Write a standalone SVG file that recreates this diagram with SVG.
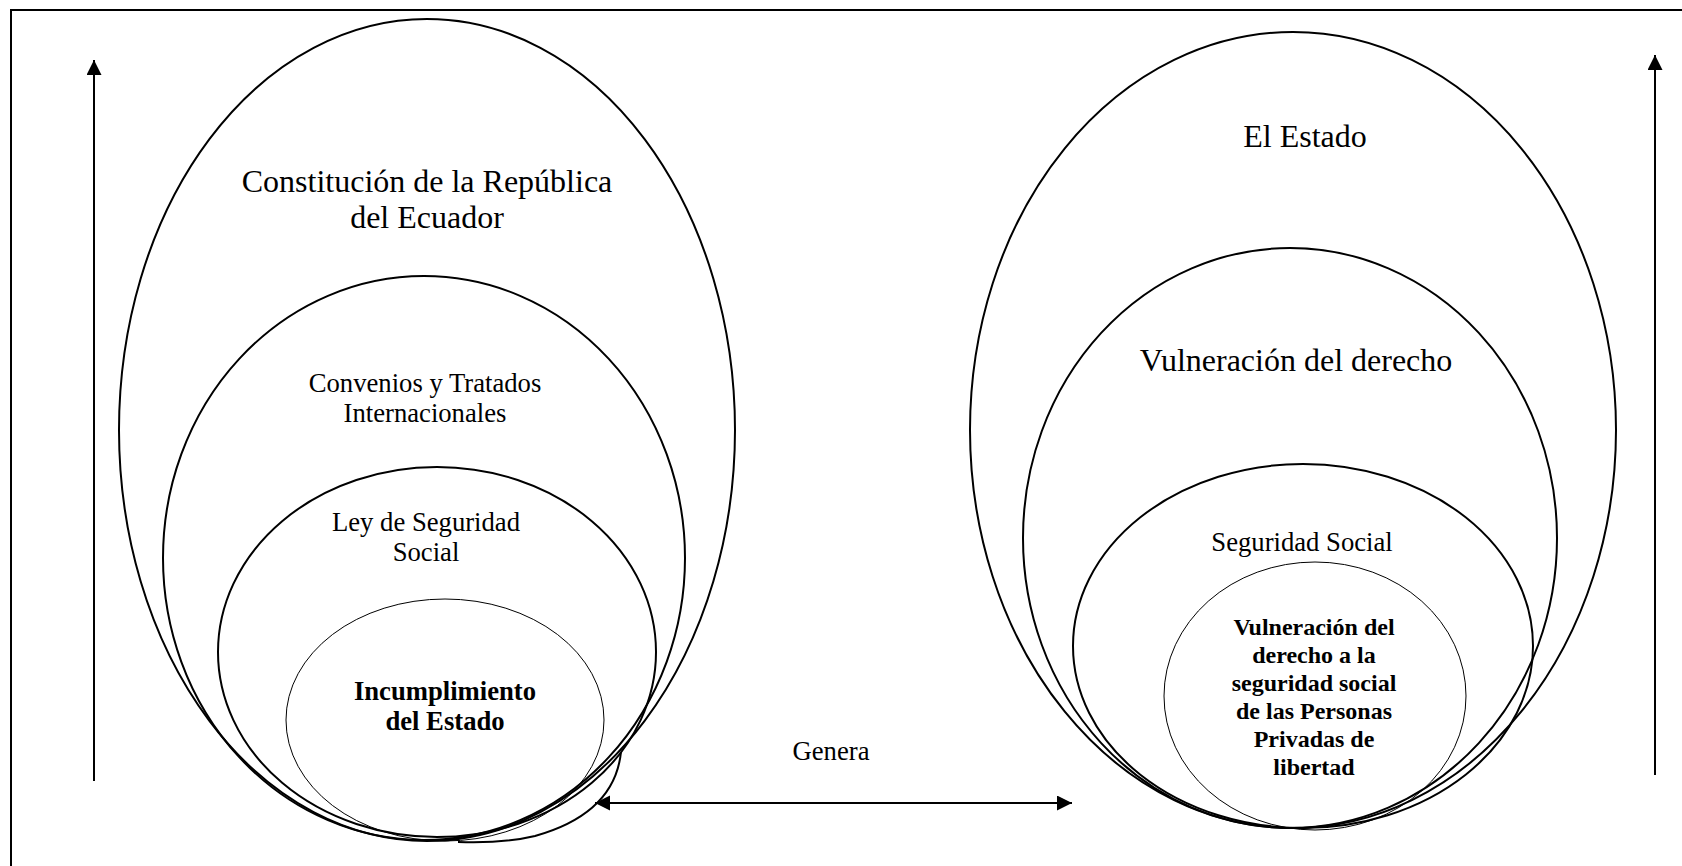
<svg xmlns="http://www.w3.org/2000/svg" width="1682" height="866" viewBox="0 0 1682 866">
  <style>
    .thick { fill: none; stroke: #000; stroke-width: 2; }
    .thin { fill: none; stroke: #000; stroke-width: 1; }
    .t { font-family: "Liberation Serif", "Times New Roman", serif; fill: #000; text-anchor: middle; }
    .big { font-size: 32px; }
    .mid { font-size: 26.67px; }
    .b { font-weight: bold; }
    .sm { font-size: 24px; }
    .conn { fill: none; stroke: #000; stroke-width: 2; }
  </style>
  <defs>
    <marker id="arrow" markerUnits="userSpaceOnUse" markerWidth="16" markerHeight="16" refX="15" refY="7.5" orient="auto-start-reverse" viewBox="0 0 16 16">
      <path d="M0,0 L15,7.5 L0,15 Z" fill="#000"/>
    </marker>
  </defs>
  <rect x="0" y="0" width="1682" height="866" fill="#fff"/>
  <rect id="frame" x="11" y="10" width="1700" height="900" fill="none" stroke="#000" stroke-width="2"/>

  <g id="constitucion">
    <ellipse class="thick" cx="427" cy="430" rx="308" ry="411"/>
    <path class="thick" d="M621,752 C617,790 592,820 535,836 C510,842 485,843 458,842"/>
    <text class="t big" x="427" y="192">Constitución de la República</text>
    <text class="t big" x="427" y="228">del Ecuador</text>
  </g>
  <g id="convenios">
    <ellipse class="thick" cx="424" cy="558" rx="261" ry="282"/>
    <text class="t mid" x="425" y="392">Convenios y Tratados</text>
    <text class="t mid" x="425" y="422">Internacionales</text>
  </g>
  <g id="ley">
    <ellipse class="thick" cx="437" cy="652" rx="219" ry="185"/>
    <text class="t mid" x="426" y="531">Ley de Seguridad</text>
    <text class="t mid" x="426" y="561">Social</text>
  </g>
  <g id="incumplimiento">
    <ellipse class="thin" cx="445" cy="720" rx="159" ry="121"/>
    <text class="t mid b" x="445" y="700">Incumplimiento</text>
    <text class="t mid b" x="445" y="730">del Estado</text>
  </g>

  <g id="estado">
    <ellipse class="thick" cx="1293" cy="430" rx="323" ry="398"/>
    <text class="t big" x="1305" y="147">El Estado</text>
  </g>
  <g id="vulneracion">
    <ellipse class="thick" cx="1290" cy="538" rx="267" ry="290"/>
    <text class="t big" x="1296" y="371">Vulneración del derecho</text>
  </g>
  <g id="seguridad">
    <ellipse class="thick" cx="1303" cy="646" rx="230" ry="182"/>
    <text class="t mid" x="1302" y="551">Seguridad Social</text>
  </g>
  <g id="vulneracion-ppl">
    <ellipse class="thin" cx="1315" cy="696" rx="151" ry="134"/>
    <text class="t sm b" x="1314" y="635">Vulneración del</text>
    <text class="t sm b" x="1314" y="663">derecho a la</text>
    <text class="t sm b" x="1314" y="691">seguridad social</text>
    <text class="t sm b" x="1314" y="719">de las Personas</text>
    <text class="t sm b" x="1314" y="747">Privadas de</text>
    <text class="t sm b" x="1314" y="775">libertad</text>
  </g>

  <g id="connectors">
    <line class="conn" x1="94" y1="781" x2="94" y2="60" marker-end="url(#arrow)"/>
    <line class="conn" x1="1655" y1="775" x2="1655" y2="55" marker-end="url(#arrow)"/>
    <line class="conn" x1="595" y1="803" x2="1072" y2="803" marker-start="url(#arrow)" marker-end="url(#arrow)"/>
    <text class="t mid" x="831" y="760">Genera</text>
  </g>
</svg>
